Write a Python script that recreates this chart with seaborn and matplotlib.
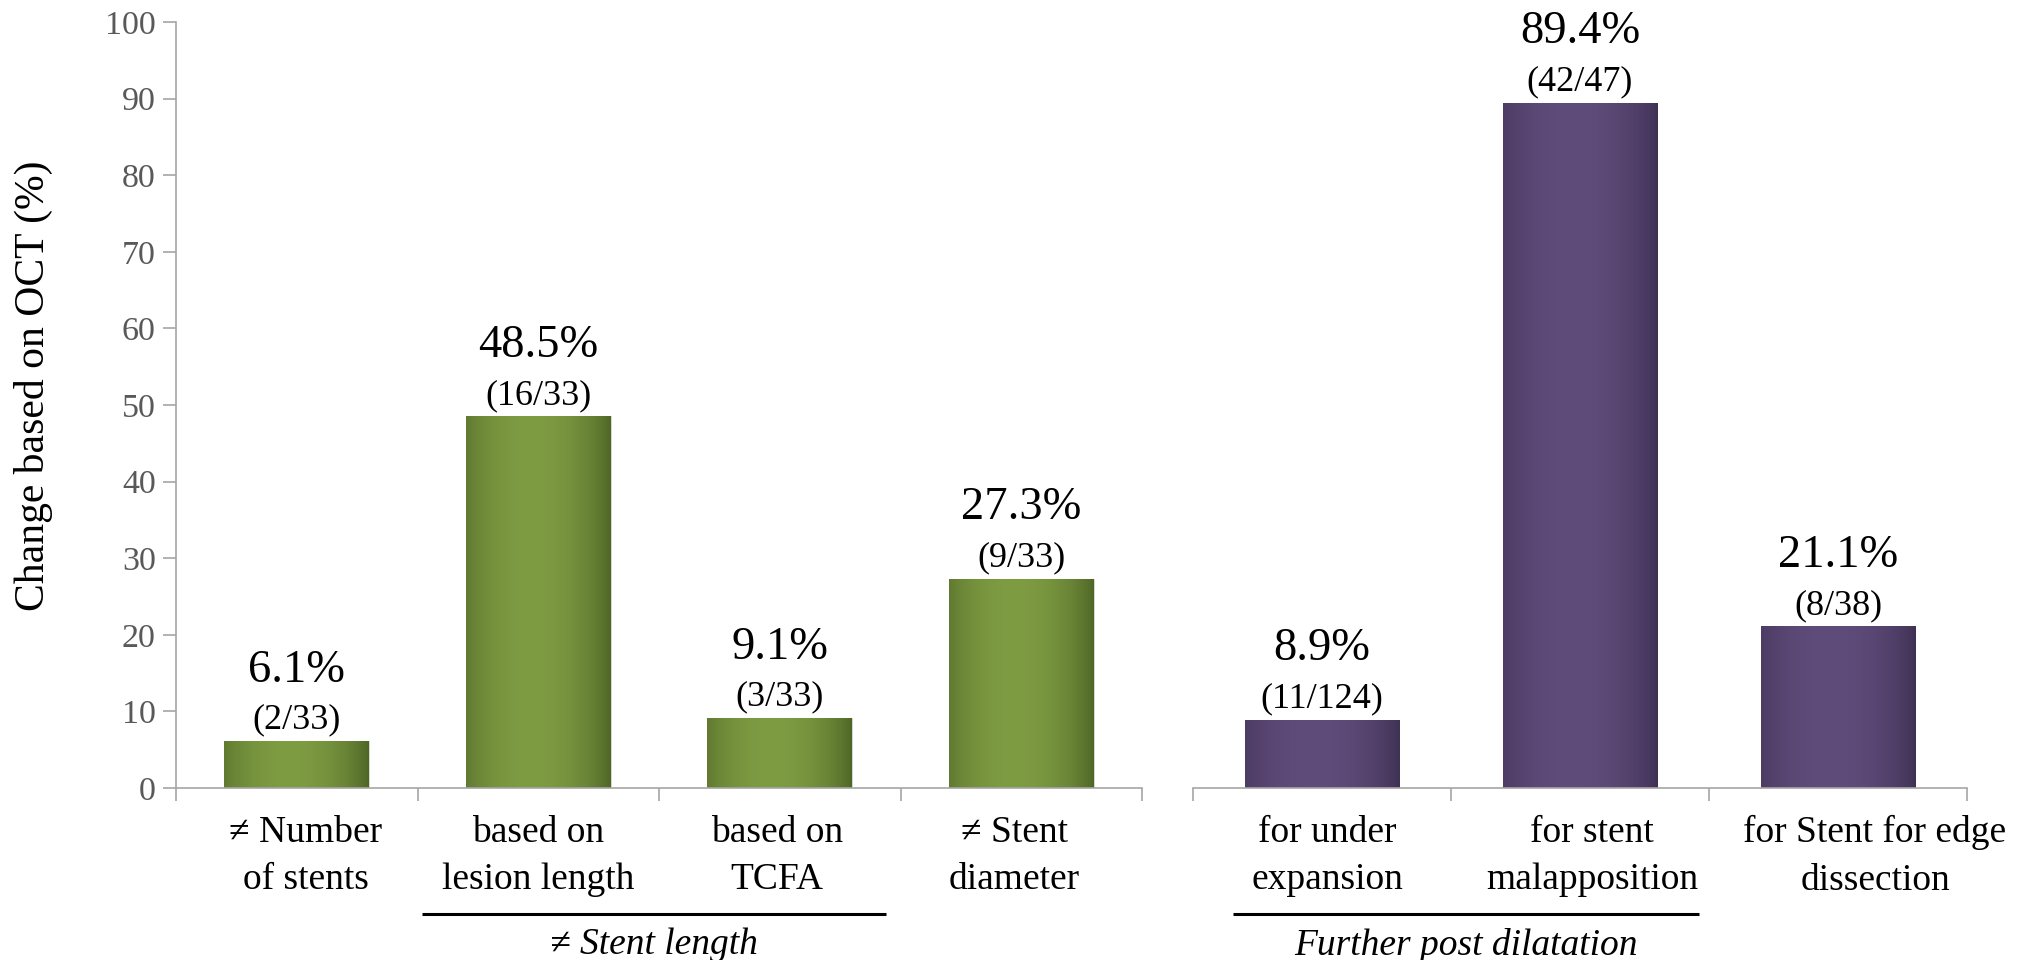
import numpy as np
import pandas as pd
import matplotlib
matplotlib.use("Agg")
import matplotlib.pyplot as plt
import matplotlib.transforms as mtransforms
from matplotlib.colors import to_rgb
import seaborn as sns

# ---- data -------------------------------------------------------------
stent_cats = ["\u2260 Number\nof stents", "based on\nlesion length",
              "based on\nTCFA", "\u2260 Stent\ndiameter"]
stent_pct = [6.1, 48.5, 9.1, 27.3]
stent_frac = ["(2/33)", "(16/33)", "(3/33)", "(9/33)"]

dil_cats = ["for under\nexpansion", "for stent\nmalapposition",
            "for Stent for edge\ndissection"]
dil_pct = [8.9, 89.4, 21.1]
dil_frac = ["(11/124)", "(42/47)", "(8/38)"]

y_ticks = list(range(0, 101, 10))
y_label = "Change based on OCT (%)"
group_labels = ["\u2260 Stent length", "Further post dilatation"]

# ---- style ------------------------------------------------------------
sns.set_style("white")
FONT = "Liberation Serif"
plt.rcParams["font.family"] = "serif"
plt.rcParams["font.serif"] = [FONT]

GREEN_EDGE, GREEN_MID = "#4a6224", "#7e9c42"
PURPLE_EDGE, PURPLE_MID = "#3d2f51", "#604c7b"
AXIS_GRAY = "#a6a6a6"
TICK_TEXT = "#595959"

fig = plt.figure(figsize=(20.29, 9.6), dpi=100)
ax1 = fig.add_axes([176 / 2029, 172 / 960, 966 / 2029, 766 / 960])
ax2 = fig.add_axes([1193 / 2029, 172 / 960, 774 / 2029, 766 / 960])


def shade_bars(ax, edge, mid):
    """Overlay a cylinder-like horizontal gradient on every bar."""
    e, m = np.array(to_rgb(edge)), np.array(to_rgb(mid))
    t = np.linspace(0, 1, 256)
    w = np.clip(1 - ((t - 0.45) / 0.56) ** 2, 0, 1) ** 0.8
    grad = (e[None, :] * (1 - w[:, None]) + m[None, :] * w[:, None])[None, :, :]
    xl, yl = ax.get_xlim(), ax.get_ylim()
    for p in list(ax.patches):
        x0, w_ = p.get_x(), p.get_width()
        h = p.get_height()
        im = ax.imshow(grad, extent=[x0, x0 + w_, 0, h], aspect="auto",
                       interpolation="bilinear", zorder=p.get_zorder() + 0.1)
        im.set_clip_path(p)
    ax.set_xlim(xl)
    ax.set_ylim(yl)


def draw_group(ax, cats, pct, frac, edge, mid, label_shift):
    df = pd.DataFrame({"cat": cats, "pct": pct})
    sns.barplot(data=df, x="cat", y="pct", ax=ax, color=mid, width=0.6,
                saturation=1, edgecolor="#d9d9d9", linewidth=0.6)
    n = len(cats)
    ax.set_xlim(-0.5, n - 0.5)
    ax.set_ylim(0, 100)
    shade_bars(ax, edge, mid)
    for i, (v, f) in enumerate(zip(pct, frac)):
        ax.annotate(f, (i, v), xytext=(0, 21), textcoords="offset pixels",
                    ha="center", va="center", fontsize=26, color="black",
                    family=FONT)
        ax.annotate(f"{v:.1f}%", (i, v), xytext=(0, 71),
                    textcoords="offset pixels", ha="center", va="center",
                    fontsize=33.5, color="black", family=FONT)
    ax.set_xlabel("")
    ax.set_ylabel("")
    # category names under each bar; wide ones sit slightly off centre
    ax.set_xticks(range(n))
    ax.set_xticklabels([""] * n)
    for i, (c, dx) in enumerate(zip(cats, label_shift)):
        ax.annotate(c, (i, 0), xytext=(dx, -27), textcoords="offset pixels",
                    ha="center", va="top", multialignment="center",
                    fontsize=27, linespacing=1.5, color="black", family=FONT,
                    annotation_clip=False)
    ax.set_xticks(np.arange(-0.5, n), minor=True)
    ax.tick_params(axis="x", which="major", length=0)
    ax.tick_params(axis="x", which="minor", length=9, width=1.2,
                   color=AXIS_GRAY, direction="out", bottom=True)
    for s in ("top", "right"):
        ax.spines[s].set_visible(False)
    ax.spines["bottom"].set_color(AXIS_GRAY)
    ax.spines["bottom"].set_linewidth(1.2)
    ax.patch.set_alpha(0)


draw_group(ax1, stent_cats, stent_pct, stent_frac, GREEN_EDGE, GREEN_MID,
           [9, 0, -3, -7])
draw_group(ax2, dil_cats, dil_pct, dil_frac, PURPLE_EDGE, PURPLE_MID,
           [5, 12, 37])

# y axis only on the left panel
ax1.set_yticks(y_ticks)
ax1.set_yticklabels([str(v) for v in y_ticks], fontsize=24.5,
                    color=TICK_TEXT, family=FONT)
ax1.tick_params(axis="y", length=9.5, width=1.2, color=AXIS_GRAY, pad=5,
                left=True)
ax1.spines["left"].set_color(AXIS_GRAY)
ax1.spines["left"].set_linewidth(1.2)
ax2.spines["left"].set_visible(False)
ax2.set_yticks([])

fig.text(33 / 2029, 574 / 960, y_label, rotation=90, ha="center",
         va="center", fontsize=30, color="black", family=FONT)

# group brackets beneath category labels
for ax, (xa, xb), label in ((ax1, (0.52, 2.44), group_labels[0]),
                            (ax2, (-0.345, 1.46), group_labels[1])):
    tr = mtransforms.blended_transform_factory(ax.transData, ax.transAxes)
    ax.plot([xa, xb], [-0.165, -0.165], transform=tr, color="black", lw=2.2,
            clip_on=False, solid_capstyle="butt")
    ax.text((xa + xb) / 2, -0.205, label, transform=tr, ha="center",
            va="center", fontsize=27, style="italic", color="black",
            family=FONT)

fig.savefig("out.png", dpi=100, facecolor="white")
